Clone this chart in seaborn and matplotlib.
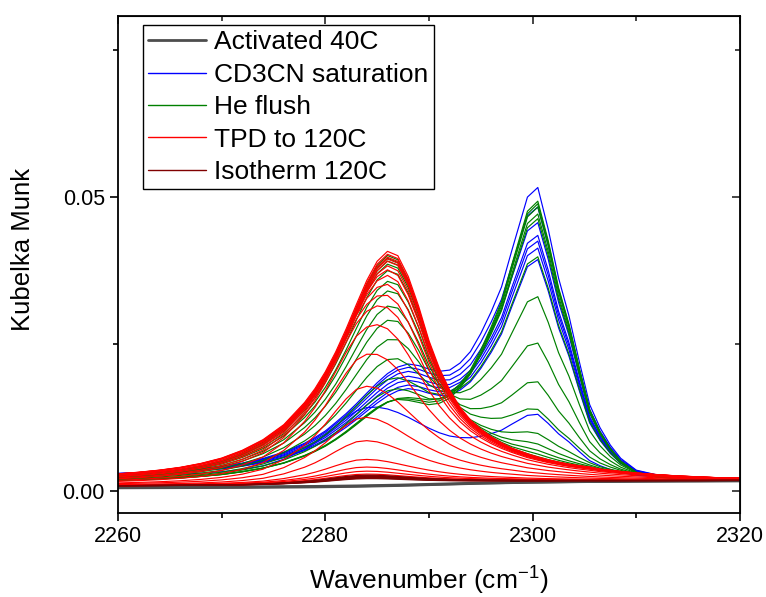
import numpy as np
import pandas as pd
from matplotlib import pyplot as plt
from matplotlib.lines import Line2D
from matplotlib.ticker import MultipleLocator, FormatStrFormatter
import seaborn as sns

# ---------- spectral grid and band shapes (peak = 1) ----------
wavenumber = [2260, 2262, 2264, 2266, 2268, 2270, 2272, 2274, 2276, 2278,
              2279, 2280, 2281, 2282, 2283, 2284, 2285, 2286, 2287, 2288,
              2289, 2290, 2291, 2292, 2293, 2294, 2295, 2296, 2297, 2298,
              2299.5, 2300.5, 2301.5, 2302.5, 2303.5, 2304.5, 2305.5, 2306.5, 2307.5, 2308.5,
              2310, 2312, 2314, 2316, 2318, 2320]

# band at ~2286 (chemisorbed, strongest after He flush)
prof_2286 = [0.034, 0.041, 0.050, 0.062, 0.079, 0.102, 0.136, 0.182, 0.247, 0.343,
             0.403, 0.476, 0.562, 0.661, 0.768, 0.872, 0.955, 0.998, 0.979, 0.889,
             0.760, 0.610, 0.490, 0.395, 0.320, 0.265, 0.225, 0.192, 0.165, 0.142,
             0.117, 0.103, 0.091, 0.081, 0.072, 0.065, 0.059, 0.050, 0.045, 0.040,
             0.033, 0.026, 0.020, 0.016, 0.012, 0.010]

# band at ~2300 (saturation)
prof_2300 = [0.006, 0.007, 0.008, 0.009, 0.011, 0.013, 0.016, 0.019, 0.024, 0.030,
             0.034, 0.038, 0.043, 0.049, 0.056, 0.064, 0.073, 0.084, 0.097, 0.113,
             0.133, 0.157, 0.188, 0.227, 0.281, 0.345, 0.428, 0.520, 0.620, 0.760,
             0.960, 1.000, 0.860, 0.690, 0.560, 0.400, 0.250, 0.170, 0.110, 0.065,
             0.025, 0.010, 0.006, 0.004, 0.003, 0.002]

# broad band at ~2287 (during CD3CN dosing)
prof_2287 = [0.030, 0.036, 0.044, 0.055, 0.070, 0.090, 0.120, 0.165, 0.225, 0.310,
             0.365, 0.430, 0.515, 0.600, 0.695, 0.795, 0.889, 0.962, 0.998, 0.981,
             0.896, 0.775, 0.646, 0.531, 0.435, 0.358, 0.297, 0.248, 0.210, 0.179,
             0.144, 0.125, 0.100, 0.085, 0.073, 0.062, 0.052, 0.044, 0.037, 0.031,
             0.024, 0.018, 0.013, 0.009, 0.006, 0.004]

# band at ~2284 (remaining during TPD)
prof_2284 = [0.015, 0.020, 0.026, 0.035, 0.048, 0.068, 0.100, 0.150, 0.250, 0.400,
             0.500, 0.620, 0.755, 0.880, 0.975, 0.998, 0.967, 0.897, 0.805, 0.705,
             0.610, 0.524, 0.449, 0.386, 0.333, 0.289, 0.252, 0.221, 0.195, 0.173,
             0.140, 0.125, 0.110, 0.098, 0.087, 0.077, 0.068, 0.060, 0.053, 0.047,
             0.039, 0.030, 0.023, 0.017, 0.012, 0.008]

# baseline drift (0 at 2260, 1 at 2320)
drift = [0.00, 0.01, 0.02, 0.03, 0.04, 0.05, 0.06, 0.08, 0.10, 0.12,
         0.13, 0.15, 0.17, 0.19, 0.21, 0.24, 0.27, 0.30, 0.33, 0.37,
         0.41, 0.45, 0.49, 0.53, 0.57, 0.61, 0.65, 0.68, 0.71, 0.74,
         0.78, 0.80, 0.82, 0.84, 0.86, 0.875, 0.89, 0.90, 0.91, 0.92,
         0.935, 0.95, 0.965, 0.975, 0.99, 1.00]

# ---------- per-spectrum amplitudes ----------
act_off = [0.0005, 0.0006, 0.0007]
act_drift = [0.0012, 0.0011, 0.0011]

sat_2300 = [0.0095, 0.0359, 0.0378, 0.0389, 0.0398, 0.0419, 0.0445, 0.0478]
sat_2287 = [0.0030, 0.0114, 0.0118, 0.0125, 0.0131, 0.0137, 0.0141, 0.0143]
sat_2284 = [0.0090, 0, 0, 0, 0, 0, 0, 0]
sat_off = [0.0023] * 8
sat_drift = [-0.0003] * 8

he_2286 = [0.006, 0.008, 0.010, 0.012, 0.014, 0.018, 0.022, 0.026,
           0.029, 0.032, 0.034, 0.036, 0.0372, 0.0378, 0.0383, 0.0388]
he_2300 = [0.0466, 0.0462, 0.0457, 0.0443, 0.0433, 0.0364, 0.0292, 0.0209,
           0.0140, 0.0090, 0.0047, 0.0027, 0.0015, 0.0008, 0.0003, 0.0]
he_2287 = [0.004, 0.002, 0, 0, 0, 0, 0, 0, 0, 0, 0, 0, 0, 0, 0, 0]
he_off = [0.0012] * 16
he_drift = [0.0005] * 16

tpd_2286 = [0.0392, 0.0387, 0.0382, 0.0379, 0.0375, 0.0350, 0.0328, 0.0303, 0.0258, 0.0213,
            0.0165, 0.0110, 0.0057, 0.0016, 0, 0, 0, 0, 0, 0]
tpd_2284 = [0, 0, 0, 0, 0, 0.0020, 0.0037, 0.0055, 0.0088, 0.0118,
            0.0148, 0.0170, 0.0170, 0.0152, 0.0113, 0.0074, 0.0042, 0.0029, 0.0022, 0.0017]
tpd_off = [0.0016, 0.0016, 0.0016, 0.0016, 0.0016, 0.0015, 0.0015, 0.0014, 0.0014, 0.0013,
           0.0013, 0.0012, 0.0012, 0.0011, 0.0011, 0.0010, 0.0010, 0.0010, 0.0010, 0.0010]
tpd_drift = [0.0002, 0.0002, 0.0002, 0.0002, 0.0002, 0.0003, 0.0003, 0.0004, 0.0004, 0.0005,
             0.0005, 0.0006, 0.0006, 0.0007, 0.0007, 0.0008, 0.0008, 0.0008, 0.0008, 0.0008]

iso_2284 = [0.0016, 0.0015, 0.0014, 0.0013, 0.0012, 0.0012, 0.0011, 0.0010]
iso_off = [0.0009] * 8
iso_drift = [0.0009] * 8

labels = ["Activated 40C", "CD3CN saturation", "He flush", "TPD to 120C", "Isotherm 120C"]
colors = ["#4D4D4D", "#0000FF", "#008000", "#FF0000", "#800000"]

wn = np.array(wavenumber)
P86, P00, P87, P84, D = (np.array(p) for p in (prof_2286, prof_2300, prof_2287, prof_2284, drift))


def build(stage, off, drf, a86=None, a00=None, a87=None, a84=None):
    rows = []
    for i in range(len(off)):
        km = off[i] + drf[i] * D
        if a86 is not None:
            km = km + a86[i] * P86
        if a00 is not None:
            km = km + a00[i] * P00
        if a87 is not None:
            km = km + a87[i] * P87
        if a84 is not None:
            km = km + a84[i] * P84
        rows.append(pd.DataFrame({"wn": wn, "km": km, "spec": f"{stage}_{i}"}))
    return pd.concat(rows, ignore_index=True)


frames = [
    build("act", act_off, act_drift),
    build("sat", sat_off, sat_drift, a00=sat_2300, a87=sat_2287, a84=sat_2284),
    build("he", he_off, he_drift, a86=he_2286, a00=he_2300, a87=he_2287),
    build("tpd", tpd_off, tpd_drift, a86=tpd_2286, a84=tpd_2284),
    build("iso", iso_off, iso_drift, a84=iso_2284),
]

sns.set_style("ticks")
plt.rcParams["font.family"] = ["Liberation Sans", "DejaVu Sans"]
plt.rcParams["mathtext.default"] = "regular"
plt.rcParams["text.color"] = "black"
plt.rcParams["axes.labelcolor"] = "black"

fig = plt.figure(figsize=(7.66, 5.97), dpi=100)
ax = fig.add_axes([0.154, 0.141, 0.812, 0.832])

widths = [1.6, 0.85, 0.85, 0.85, 0.85]
for df, col, lw in zip(frames, colors, widths):
    sns.lineplot(data=df, x="wn", y="km", units="spec", estimator=None,
                 color=col, linewidth=lw, ax=ax, legend=False, sort=False)

ax.set_xlim(2260, 2320)
ax.set_ylim(-0.0037, 0.0808)
ax.xaxis.set_major_locator(MultipleLocator(20))
ax.xaxis.set_minor_locator(MultipleLocator(10))
ax.yaxis.set_major_locator(MultipleLocator(0.05))
ax.yaxis.set_minor_locator(MultipleLocator(0.025))
ax.yaxis.set_major_formatter(FormatStrFormatter("%.2f"))
ax.tick_params(which="both", direction="out", width=1.2, labelsize=15.5, colors="black")
ax.tick_params(which="major", length=6)
ax.tick_params(which="minor", length=3.5)
for sp in ax.spines.values():
    sp.set_linewidth(1.3)
    sp.set_color("black")

# inward ticks on top and right
secx = ax.secondary_xaxis("top")
secx.xaxis.set_major_locator(MultipleLocator(20))
secx.xaxis.set_minor_locator(MultipleLocator(10))
secx.tick_params(which="both", direction="in", width=1.2, labeltop=False)
secx.tick_params(which="major", length=6)
secx.tick_params(which="minor", length=3.5)
secy = ax.secondary_yaxis("right")
secy.yaxis.set_major_locator(MultipleLocator(0.05))
secy.yaxis.set_minor_locator(MultipleLocator(0.025))
secy.tick_params(which="both", direction="in", width=1.2, labelright=False)
secy.tick_params(which="major", length=6)
secy.tick_params(which="minor", length=3.5)

ax.set_xlabel("Wavenumber (cm$^{-1}$)", fontsize=19, labelpad=12.5)
ax.set_ylabel("Kubelka Munk", fontsize=18.5)
ax.yaxis.set_label_coords(-0.133, 0.53)

handles = [Line2D([], [], color=c, lw=(2.0 if i == 0 else 1.0)) for i, c in enumerate(colors)]
leg = ax.legend(handles, labels, loc="upper left", bbox_to_anchor=(0.040, 0.982),
                borderaxespad=0, fontsize=19, frameon=True, fancybox=False,
                framealpha=1, edgecolor="black", handlelength=2.2, handletextpad=0.3,
                labelspacing=0.32, borderpad=0.2)
leg.get_frame().set_linewidth(1.0)

plt.savefig("out.png", dpi=100)
